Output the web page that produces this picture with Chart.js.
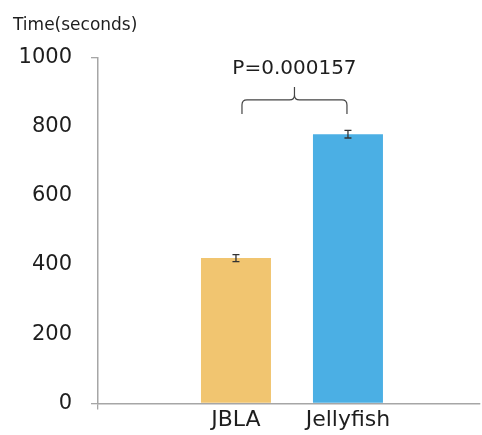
<!DOCTYPE html>
<html>
<head>
<meta charset="utf-8">
<script src="https://cdn.jsdelivr.net/npm/chart.js@4/dist/chart.umd.min.js"></script>
<style>
  html, body { margin: 0; padding: 0; background: #fff; overflow: hidden; }
  canvas { display: block; }
</style>
</head>
<body>
<canvas id="c" width="482" height="435"></canvas>
<script>
// Task completion time per tool
const categories = ['JBLA', 'Jellyfish'];
const times = [420, 778];
const errors = [10, 11];
const yTicks = [0, 200, 400, 600, 800, 1000];
const pLabel = 'P=0.000157';
const braceLevel = 877;

const barColors = ['#F1C570', '#4BAFE4'];
const axisColor = '#a6a6a6';
const textColor = '#1e1e1e';
const FONT = "'DejaVu Sans', sans-serif";

// error bars and significance brace
const annotate = {
  id: 'annotate',
  afterDatasetsDraw(chart) {
    const ctx = chart.ctx;
    const meta = chart.getDatasetMeta(0);
    const y = chart.scales.y;
    ctx.save();
    ctx.strokeStyle = '#333';
    ctx.lineWidth = 1.3;
    meta.data.forEach((bar, i) => {
      const top = y.getPixelForValue(times[i] + errors[i]);
      const bot = y.getPixelForValue(times[i] - errors[i]);
      ctx.beginPath();
      ctx.moveTo(bar.x, top); ctx.lineTo(bar.x, bot);
      ctx.moveTo(bar.x - 3.5, top); ctx.lineTo(bar.x + 3.5, top);
      ctx.moveTo(bar.x - 3.5, bot); ctx.lineTo(bar.x + 3.5, bot);
      ctx.stroke();
    });

    // curly brace spanning both bars
    const xl = meta.data[0].x + 6;
    const xr = meta.data[1].x - 1;
    const xc = (xl + xr) / 2;
    const yh = y.getPixelForValue(braceLevel);
    const r = 5;
    ctx.strokeStyle = '#444';
    ctx.lineWidth = 1.2;
    ctx.beginPath();
    ctx.moveTo(xl, yh + 14);
    ctx.lineTo(xl, yh + r);
    ctx.quadraticCurveTo(xl, yh, xl + r, yh);
    ctx.lineTo(xc - r, yh);
    ctx.quadraticCurveTo(xc, yh, xc, yh - r);
    ctx.lineTo(xc, yh - 13);
    ctx.moveTo(xc, yh - r);
    ctx.quadraticCurveTo(xc, yh, xc + r, yh);
    ctx.lineTo(xr - r, yh);
    ctx.quadraticCurveTo(xr, yh, xr, yh + r);
    ctx.lineTo(xr, yh + 14);
    ctx.stroke();

    ctx.fillStyle = textColor;
    ctx.font = '20px ' + FONT;
    ctx.textAlign = 'center';
    ctx.textBaseline = 'alphabetic';
    ctx.fillText(pLabel, xc, yh - 26);
    ctx.restore();
  }
};

new Chart(document.getElementById('c'), {
  type: 'bar',
  data: {
    datasets: [{
      data: times.map((v, i) => ({ x: i + 1, y: v })),
      backgroundColor: barColors,
      borderWidth: 0,
      categoryPercentage: 1,
      barPercentage: 0.625
    }]
  },
  options: {
    responsive: false,
    animation: false,
    devicePixelRatio: 1,
    layout: { padding: { left: 13, right: 2, top: 0, bottom: 0 } },
    plugins: {
      legend: { display: false },
      tooltip: { enabled: false },
      title: {
        display: true,
        text: 'Time(seconds)',
        align: 'start',
        color: textColor,
        font: { family: FONT, size: 17, weight: 'normal' },
        padding: { top: 15, bottom: 22 }
      }
    },
    scales: {
      x: {
        type: 'linear',
        offset: false,
        bounds: 'data',
        min: -0.232,
        max: 3.179,
        afterBuildTicks(scale) {
          scale.ticks = [{ value: scale.min }].concat(categories.map((c, i) => ({ value: i + 1 })));
        },
        afterFit(scale) { scale.height = 28; },
        ticks: {
          color: textColor,
          font: { family: FONT, size: 22 },
          padding: -2,
          maxRotation: 0,
          autoSkip: false,
          callback: (v) => categories[v - 1] ?? ''
        },
        grid: {
          offset: false,
          drawOnChartArea: false,
          tickLength: 6,
          lineWidth: 1.3,
          color: (c) => (c.index === 0 ? axisColor : 'rgba(0,0,0,0)')
        },
        border: { color: axisColor, width: 1.5 }
      },
      y: {
        min: 0,
        max: 1000,
        afterBuildTicks(scale) {
          scale.ticks = yTicks.map((v) => ({ value: v }));
        },
        afterFit(scale) { scale.width = 85; },
        ticks: {
          color: textColor,
          font: { family: FONT, size: 21 },
          padding: 19,
          callback: (v) => String(v)
        },
        grid: {
          drawOnChartArea: false,
          tickLength: 7,
          lineWidth: 1.3,
          color: (c) => (c.index === 0 || c.index === yTicks.length - 1 ? axisColor : 'rgba(0,0,0,0)')
        },
        border: { color: axisColor, width: 1.5 }
      }
    }
  },
  plugins: [annotate]
});
</script>
</body>
</html>
